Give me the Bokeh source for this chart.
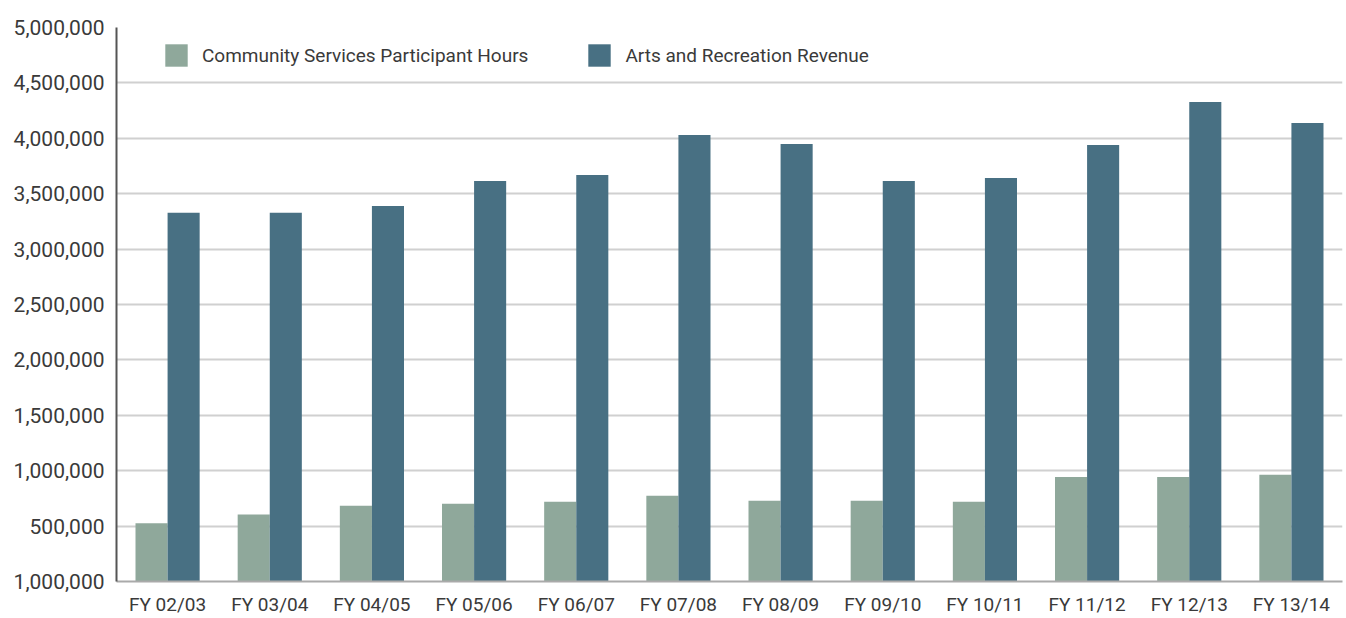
from bokeh.plotting import figure
from bokeh.models import ColumnDataSource, FactorRange, Range1d, FixedTicker, NumeralTickFormatter, Legend, LegendItem
from bokeh.transform import dodge
from bokeh.embed import file_html
from bokeh.resources import INLINE

categories = ["FY 02/03", "FY 03/04", "FY 04/05", "FY 05/06", "FY 06/07", "FY 07/08",
              "FY 08/09", "FY 09/10", "FY 10/11", "FY 11/12", "FY 12/13", "FY 13/14"]
participant_hours = [525000, 604000, 683000, 701000, 719000, 774000,
                     729000, 729000, 719000, 944000, 944000, 963000]
arts_revenue = [3327000, 3327000, 3390000, 3615000, 3669000, 4029000,
                3948000, 3615000, 3642000, 3940000, 4327000, 4139000]
y_ticks = [0, 500000, 1000000, 1500000, 2000000, 2500000, 3000000, 3500000, 4000000, 4500000, 5000000]
series_names = ["Community Services Participant Hours", "Arts and Recreation Revenue"]

FONT = "Roboto"
TEXT = "#3a3a3a"
GREEN = "#8fa89b"
BLUE = "#487083"

src = ColumnDataSource(dict(cat=categories, hours=participant_hours, rev=arts_revenue))

p = figure(x_range=FactorRange(*categories), y_range=Range1d(0, 5000000),
           width=1346, height=618, output_backend="svg", toolbar_location=None,
           min_border_left=116, min_border_right=4, min_border_top=27, min_border_bottom=35)
p.outline_line_color = None
p.background_fill_color = "white"

r1 = p.vbar(x=dodge("cat", -0.157, range=p.x_range), top="hours", width=0.314, source=src,
            fill_color=GREEN, line_color=None)
r2 = p.vbar(x=dodge("cat", 0.157, range=p.x_range), top="rev", width=0.314, source=src,
            fill_color=BLUE, line_color=None)

p.xgrid.grid_line_color = None
p.ygrid.grid_line_color = "#d0d0d0"
p.ygrid.grid_line_width = 2

ya = p.yaxis[0]
ya.ticker = FixedTicker(ticks=y_ticks)
ya.formatter = NumeralTickFormatter(format="0,0")
ya.major_label_overrides = {0: "1,000,000"}
ya.major_tick_line_color = None
ya.minor_tick_line_color = None
ya.major_tick_out = 0
ya.major_tick_in = 0
ya.minor_tick_out = 0
ya.minor_tick_in = 0
ya.axis_line_color = "#555555"
ya.axis_line_width = 2
ya.major_label_text_font = FONT
ya.major_label_text_font_size = "21px"
ya.major_label_text_color = TEXT
ya.major_label_standoff = 12

xa = p.xaxis[0]
xa.major_tick_line_color = None
xa.minor_tick_line_color = None
xa.major_tick_out = 0
xa.major_tick_in = 0
xa.minor_tick_out = 0
xa.minor_tick_in = 0
xa.axis_line_color = "#aaaaaa"
xa.axis_line_width = 2
xa.major_label_text_font = FONT
xa.major_label_text_font_size = "19px"
xa.major_label_text_color = TEXT
xa.major_label_standoff = 11

legend = Legend(items=[LegendItem(label=series_names[0], renderers=[r1]),
                       LegendItem(label=series_names[1], renderers=[r2])],
                location=(46, 512), orientation="horizontal")
legend.background_fill_alpha = 0
legend.border_line_color = None
legend.padding = 0
legend.margin = 0
legend.spacing = 57
legend.glyph_width = 28
legend.glyph_height = 28
legend.label_height = 28
legend.label_standoff = 12
legend.label_text_font = FONT
legend.label_text_font_size = "19px"
legend.label_text_color = TEXT
p.add_layout(legend)

open("out.html", "w").write(file_html(p, INLINE))
